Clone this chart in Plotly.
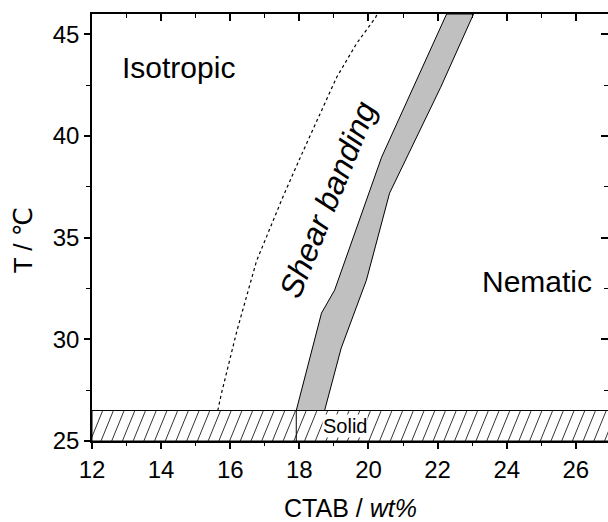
import numpy as np
import plotly.graph_objects as go

# Isotropic / shear-banding boundary (dotted curve)
iso_x = [15.64, 15.74, 16.19, 16.76, 17.52, 18.12, 19.08, 19.66, 20.21, 20.25]
iso_T = [26.5, 27.3, 30.4, 33.85, 36.99, 39.3, 42.89, 44.56, 45.84, 46.0]

# Shear-banding region: lower and upper concentration limits
band_lo_x = [17.91, 18.64, 19.02, 20.38, 22.26]
band_lo_T = [26.5, 31.29, 32.42, 38.96, 46.0]
band_hi_x = [18.73, 19.21, 19.94, 20.61, 22.09, 23.04]
band_hi_T = [26.5, 29.57, 32.91, 37.19, 42.40, 46.0]

# Solid phase (below the Krafft temperature)
solid_x = [12.0, 27.0]
solid_T = [25.0, 26.5]
solid_split_x = 17.91

# Axis ranges and ticks
x_range = [12.0, 26.93]
T_range = [25.0, 46.0]
x_ticks = [12, 14, 16, 18, 20, 22, 24, 26]
T_ticks = [25, 30, 35, 40, 45]

FONT = "Arial, Liberation Sans, DejaVu Sans, sans-serif"
BLACK = "black"

fig = go.Figure()

# Hatched solid band: white base plus slanted hatch strokes
fig.add_trace(go.Scatter(
    x=[solid_x[0], solid_x[1], solid_x[1], solid_x[0], solid_x[0]],
    y=[solid_T[0], solid_T[0], solid_T[1], solid_T[1], solid_T[0]],
    mode="lines", fill="toself", fillcolor="white",
    line=dict(color=BLACK, width=1), hoverinfo="skip", showlegend=False,
))
hatch_step = 0.31      # spacing of hatch strokes along x
hatch_slant = 0.36     # x-offset of a stroke from bottom to top
hx, hy = [], []
for x0 in np.arange(solid_x[0] - hatch_slant, solid_x[1] + hatch_step, hatch_step):
    hx += [x0, x0 + hatch_slant, None]
    hy += [solid_T[0], solid_T[1], None]
fig.add_trace(go.Scatter(
    x=hx, y=hy, mode="lines", line=dict(color=BLACK, width=0.8),
    hoverinfo="skip", showlegend=False,
))
# top border of the solid region and divider under the band
fig.add_trace(go.Scatter(
    x=solid_x, y=[solid_T[1], solid_T[1]], mode="lines",
    line=dict(color=BLACK, width=1), hoverinfo="skip", showlegend=False,
))
fig.add_trace(go.Scatter(
    x=[solid_split_x, solid_split_x], y=solid_T, mode="lines",
    line=dict(color=BLACK, width=1), hoverinfo="skip", showlegend=False,
))

# Shear-banding band (grey filled polygon)
fig.add_trace(go.Scatter(
    x=band_lo_x + band_hi_x[::-1] + [band_lo_x[0]],
    y=band_lo_T + band_hi_T[::-1] + [band_lo_T[0]],
    mode="lines", fill="toself", fillcolor="#c0c0c0",
    line=dict(color=BLACK, width=1), hoverinfo="skip", showlegend=False,
))

# Isotropic boundary
fig.add_trace(go.Scatter(
    x=iso_x, y=iso_T, mode="lines",
    line=dict(color=BLACK, width=1.2, dash="dot"),
    hoverinfo="skip", showlegend=False,
))

# Dummy trace so the mirrored (top/right) axes get drawn
fig.add_trace(go.Scatter(
    x=[x_range[0]], y=[T_range[0]], xaxis="x2", yaxis="y2",
    mode="markers", marker=dict(opacity=0), hoverinfo="skip", showlegend=False,
))

# Region labels
fig.add_annotation(x=14.49, y=43.39, text="Isotropic", showarrow=False,
                   font=dict(family=FONT, size=30, color=BLACK))
fig.add_annotation(x=24.89, y=32.86, text="Nematic", showarrow=False,
                   font=dict(family=FONT, size=30, color=BLACK))
fig.add_annotation(x=18.82, y=36.85, text="<i>Shear banding</i>", showarrow=False,
                   textangle=-68, font=dict(family=FONT, size=32, color=BLACK))
fig.add_annotation(x=19.32, y=25.72, text="Solid", showarrow=False,
                   bgcolor="white", borderpad=0,
                   font=dict(family=FONT, size=20, color=BLACK))

# Axis titles
fig.add_annotation(xref="paper", yref="paper", x=0.5, y=-0.157,
                   xanchor="center", yanchor="middle",
                   text="CTAB / <i>wt%</i>", showarrow=False,
                   font=dict(family=FONT, size=25, color=BLACK))
fig.add_annotation(xref="paper", yref="paper", x=-0.1337, y=0.47,
                   xanchor="center", yanchor="middle",
                   text="T / ℃", showarrow=False, textangle=-90,
                   font=dict(family=FONT, size=26, color=BLACK))

axis_common = dict(showgrid=False, zeroline=False, linecolor=BLACK,
                   linewidth=1.5, tickcolor=BLACK, tickwidth=1.5)

fig.update_layout(
    width=608, height=522,
    margin=dict(l=92, r=0, t=14, b=81, autoexpand=False),
    paper_bgcolor="white", plot_bgcolor="white",
    font=dict(family=FONT, size=24, color=BLACK),
    xaxis=dict(range=x_range, tickvals=x_ticks, ticks="outside", ticklen=6,
               showline=True,
               minor=dict(dtick=1, tick0=12, ticks="outside", ticklen=3,
                          tickcolor=BLACK, tickwidth=1.2),
               tickfont=dict(family=FONT, size=24), **axis_common),
    xaxis2=dict(range=x_range, overlaying="x", side="top", tickvals=x_ticks,
                ticks="inside", ticklen=7, showticklabels=False, showline=True,
                minor=dict(dtick=1, tick0=12, ticks="inside", ticklen=4,
                           tickcolor=BLACK, tickwidth=1.2),
                **axis_common),
    yaxis=dict(range=T_range, tickvals=T_ticks, ticks="outside", ticklen=6,
               showline=True,
               minor=dict(dtick=2.5, tick0=25, ticks="outside", ticklen=4,
                          tickcolor=BLACK, tickwidth=1.2),
               tickfont=dict(family=FONT, size=24), **axis_common),
    yaxis2=dict(range=T_range, overlaying="y", side="right", tickvals=T_ticks,
                ticks="inside", ticklen=7, showticklabels=False, showline=False,
                minor=dict(dtick=2.5, tick0=25, ticks="inside", ticklen=4,
                           tickcolor=BLACK, tickwidth=1.2),
                **axis_common),
)

fig.write_html("out.html")
